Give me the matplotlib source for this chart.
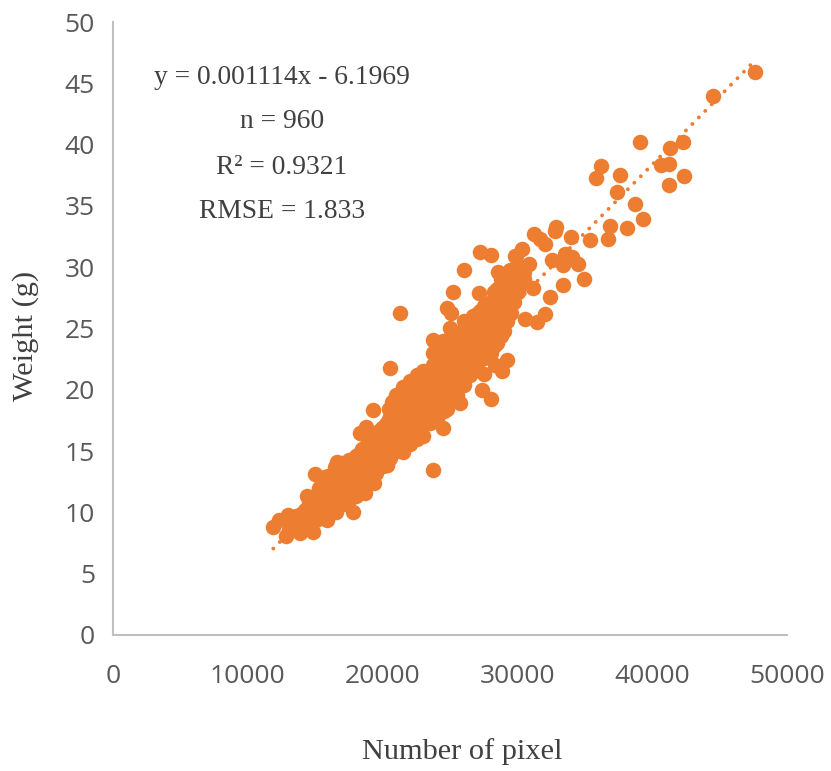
import matplotlib
matplotlib.use("Agg")
import numpy as np
import matplotlib.pyplot as plt

# points that stand clear of the cloud
outer_x = [47626, 44487, 39072, 42263, 41320, 41224, 40630, 42382, 41246, 36180,
           35830, 37590, 37366, 38724, 39295, 38157, 36869, 36750, 35415, 34005,
           32865, 32815, 31231, 31677, 32025, 30319, 29873, 32567, 33531, 34027,
           33407, 34473, 34918, 33360, 32418, 31180, 30883, 21313, 20527, 23760,
           28020, 27351, 26039, 27226, 28020, 25200, 27150, 24800, 25100, 24977,
           23760, 23716, 30564, 31477, 32047, 28538, 29822, 29206, 28880, 28338,
           27545, 25742, 24755, 24458, 22975, 21535, 20304, 19310, 18769, 18323,
           14985, 11892, 12300, 12980, 12810, 14860, 13870, 17780, 18700, 19362,
           20350, 15850, 16540, 14370, 16595, 15727]
outer_y = [45.9, 44.0, 40.2, 40.2, 39.75, 38.45, 38.3, 37.4, 36.7, 38.25,
           37.25, 37.5, 36.15, 35.15, 33.9, 33.2, 33.35, 32.3, 32.2, 32.5,
           33.25, 32.95, 32.7, 32.3, 31.9, 31.5, 30.9, 30.6, 31.05, 30.85,
           30.2, 30.26, 29.05, 28.55, 27.55, 28.3, 30.3, 26.3, 21.75, 13.45,
           19.25, 20.0, 29.8, 31.2, 30.97, 28.0, 27.9, 26.7, 26.3, 25.04,
           24.06, 22.97, 25.77, 25.56, 26.2, 29.6, 30.9, 22.4, 21.55, 22.0,
           21.3, 18.9, 18.4, 16.9, 16.25, 14.95, 13.87, 18.35, 17.0, 16.5,
           13.1, 8.83, 9.4, 9.8, 8.1, 8.4, 8.3, 10.0, 11.6, 12.4,
           13.9, 9.4, 10.05, 11.3, 14.1, 12.9]

cloud_x = [13050, 13120, 13480, 13550, 14020, 13960, 14530, 14470, 14560,
           15040, 14950, 15060, 15520, 15460, 15550, 15490,
           16030, 15970, 16040, 15980, 16520, 16470, 16540, 16490,
           17030, 16960, 17020, 16980, 17520, 17460, 17530, 17480,
           18030, 17960, 18040, 17990, 18520, 18460, 18530, 18490,
           19030, 18970, 19040, 18980, 19020, 19520, 19470, 19530, 19480,
           20030, 19960, 20040, 19980, 20520, 20470, 20530, 20490, 20510,
           21030, 20970, 21040, 20980, 21010, 21520, 21460, 21530, 21490, 21510,
           22030, 21970, 22040, 21980, 22010, 22520, 22460, 22530, 22490, 22510, 22540,
           23030, 22970, 23040, 22980, 23010, 23520, 23470, 23530, 23480, 23510,
           24030, 23960, 24040, 23990, 24010, 24020, 24520, 24460, 24530, 24490, 24510, 24470,
           25030, 24970, 25040, 24980, 25010, 25020, 25520, 25460, 25530, 25490, 25510,
           26030, 25970, 26040, 25980, 26010, 26020, 26520, 26460, 26530, 26490, 26510,
           27030, 26970, 27040, 26980, 27010, 27520, 27460, 27530, 27490, 27510,
           28030, 27970, 28040, 27980, 28010, 28520, 28460, 28530, 28490, 28510,
           29030, 28970, 29040, 28980, 29010, 29520, 29470, 29530, 29480,
           30030, 29970, 30040, 30520, 30480]
cloud_y = [8.6, 9.4, 8.6, 9.7, 8.8, 9.9, 9.0, 10.0, 10.8,
           9.4, 10.5, 11.4, 9.6, 10.6, 11.7, 12.6,
           10.0, 11.0, 12.2, 13.0, 10.4, 11.4, 12.6, 13.7,
           10.7, 11.8, 12.9, 14.0, 11.0, 12.2, 13.4, 14.3,
           11.3, 12.7, 13.8, 14.6, 12.0, 13.2, 14.4, 15.2,
           12.5, 13.7, 14.9, 15.9, 16.4, 13.2, 14.3, 15.3, 16.3,
           13.8, 14.9, 15.9, 16.9, 14.4, 15.5, 16.5, 17.6, 18.4,
           15.0, 16.2, 17.4, 18.6, 19.6, 15.6, 16.9, 18.0, 19.2, 20.2,
           15.6, 17.3, 18.5, 19.6, 20.7, 16.0, 17.1, 18.2, 19.3, 20.4, 21.2,
           17.4, 18.6, 19.7, 20.7, 21.5, 17.3, 18.7, 20.0, 21.0, 21.6,
           17.6, 18.9, 20.1, 21.3, 22.4, 23.0, 18.3, 19.5, 20.7, 21.9, 23.0, 24.0,
           19.0, 20.2, 21.4, 22.6, 23.6, 24.2, 19.6, 20.8, 22.0, 23.2, 24.3,
           20.4, 21.6, 22.8, 24.0, 25.0, 25.6, 21.2, 22.4, 23.6, 24.8, 25.6,
           21.8, 23.0, 24.2, 25.4, 26.2, 22.6, 23.6, 24.8, 26.0, 26.8,
           23.0, 24.2, 25.4, 26.6, 27.2, 23.8, 24.9, 26.0, 27.0, 28.2,
           24.8, 26.0, 27.2, 28.4, 29.3, 26.3, 27.6, 28.8, 29.8,
           28.0, 29.0, 30.0, 29.0, 29.6]

# more points between those columns, where the band is solid
fill_x = [13300, 13800, 14250, 14260, 14750, 14740, 15250, 15240, 15260,
          15750, 15740, 15760, 16250, 16240, 16260, 16750, 16740, 16760,
          17250, 17240, 17260, 17750, 17740, 17760, 18250, 18240, 18260,
          18750, 18740, 18760, 19250, 19240, 19260, 19750, 19740, 19760,
          20250, 20240, 20260, 20750, 20740, 20760, 20730,
          21250, 21240, 21260, 21230, 21750, 21740, 21760, 21730,
          22250, 22240, 22260, 22230, 22750, 22740, 22760, 22730,
          23250, 23240, 23260, 23230, 23750, 23740, 23760, 23730,
          24250, 24240, 24260, 24230, 24270, 24750, 24740, 24760, 24730,
          25250, 25240, 25260, 25230, 25750, 25740, 25760, 25730,
          26250, 26240, 26260, 26230, 26750, 26740, 26760, 26730,
          27250, 27240, 27260, 27230, 27750, 27740, 27760, 27730,
          28250, 28240, 28260, 28230, 28270, 28750, 28740, 28760, 28730, 28770,
          29250, 29240, 29260, 29230, 29750, 29740, 29760, 30250, 30240]
fill_y = [9.0, 9.2, 9.4, 10.2, 9.6, 10.4, 10.0, 11.0, 12.0,
          10.2, 11.2, 12.2, 10.6, 11.6, 12.8, 11.0, 12.2, 13.2,
          11.4, 12.6, 13.8, 11.8, 13.0, 14.2, 12.4, 13.6, 14.8,
          13.0, 14.2, 15.4, 13.6, 14.8, 16.0, 14.2, 15.4, 16.6,
          14.8, 16.0, 17.2, 15.2, 16.4, 17.8, 19.0,
          15.8, 17.0, 18.2, 19.4, 16.4, 17.6, 18.8, 20.0,
          16.8, 18.0, 19.2, 20.4, 17.4, 18.6, 19.8, 21.0,
          18.0, 19.2, 20.4, 21.4, 18.4, 19.6, 20.8, 22.0,
          18.9, 20.1, 21.3, 22.5, 23.6, 19.6, 20.8, 22.0, 23.2,
          20.2, 21.4, 22.6, 23.8, 21.0, 22.2, 23.4, 24.6,
          21.6, 22.8, 24.0, 25.2, 22.4, 23.6, 24.8, 26.0,
          23.0, 24.2, 25.4, 26.4, 23.2, 24.4, 25.6, 26.8,
          23.6, 24.8, 26.0, 27.2, 28.0, 24.4, 25.6, 26.8, 28.0, 29.0,
          25.6, 26.8, 28.0, 29.2, 27.2, 28.4, 29.6, 28.6, 29.8]

# trend line ends
trend_x = [11892, 47626]
trend_y = [7.05, 46.86]

x_ticks = [0, 10000, 20000, 30000, 40000, 50000]
y_ticks = [0, 5, 10, 15, 20, 25, 30, 35, 40, 45, 50]
notes = ["y = 0.001114x - 6.1969", "n = 960", "R² = 0.9321", "RMSE = 1.833"]

orange = "#ED7D31"
W, H = 831, 771

fig = plt.figure(figsize=(W / 100, H / 100), dpi=100)
ax = fig.add_axes([113 / W, (H - 635) / H, (787 - 113) / W, (635 - 22) / H])

ax.scatter(np.array(outer_x + cloud_x + fill_x), np.array(outer_y + cloud_y + fill_y), s=125,
           color=orange, linewidths=0, clip_on=False, zorder=3)
ax.plot(trend_x, trend_y, color=orange, lw=2.8, dash_capstyle="round",
        linestyle=(0, (0.01, 2.35)), clip_on=False, zorder=2)

ax.set_xlim(0, 50000)
ax.set_ylim(0, 50)
ax.set_xticks(x_ticks)
ax.set_yticks(y_ticks)
ax.tick_params(length=0, labelsize=19, labelcolor="#595959")
ax.tick_params(axis="x", pad=21)
ax.tick_params(axis="y", pad=13)
for lab in ax.get_xticklabels() + ax.get_yticklabels():
    lab.set_fontfamily("Open Sans")

for side in ["top", "right"]:
    ax.spines[side].set_visible(False)
for side in ["left", "bottom"]:
    ax.spines[side].set_color("#BFBFBF")
    ax.spines[side].set_linewidth(1.5)

fig.text(462 / W, 1 - 752 / H, "Number of pixel", family="Liberation Serif",
         fontsize=21.9, color="#404040", ha="center", va="center")
fig.text(26 / W, 1 - 336 / H, "Weight (g)", family="Liberation Serif",
         fontsize=21.9, color="#404040", ha="center", va="center", rotation=90)

for note, py in zip(notes, [77, 121, 167, 212]):
    fig.text(282 / W, 1 - py / H, note, family="Liberation Serif",
             fontsize=19.8, color="#404040", ha="center", va="center")

fig.savefig("out.png", dpi=100)
